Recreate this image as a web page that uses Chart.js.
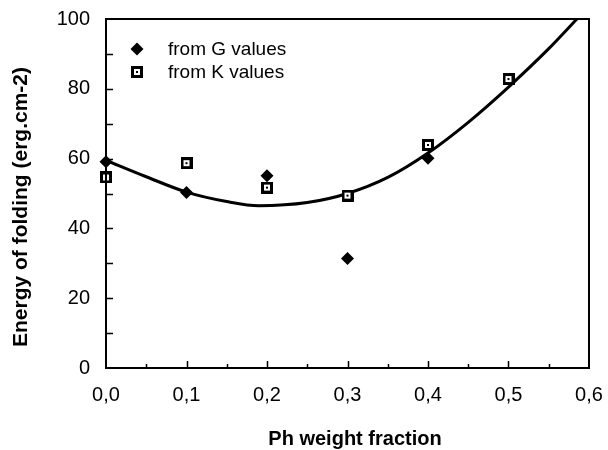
<!DOCTYPE html>
<html>
<head>
<meta charset="utf-8">
<script src="https://cdn.jsdelivr.net/npm/chart.js@4"></script>
<style>
  html, body { margin: 0; padding: 0; background: #fff; }
  #wrap { width: 608px; height: 450px; }
</style>
</head>
<body>
<div id="wrap"><canvas id="foldChart" width="608" height="450"></canvas></div>
<script>
// Energy of folding vs Ph weight fraction
const gFraction = [0.0, 0.1, 0.2, 0.3, 0.4];
const gEnergy = [59.1, 50.3, 55.1, 31.4, 60.1];

const kFraction = [0.0, 0.1, 0.2, 0.3, 0.4, 0.5];
const kEnergy = [54.6, 58.7, 51.7, 49.4, 63.9, 82.8];

// fitted curve
const fitFraction = [0.0, 0.05, 0.1, 0.15, 0.19, 0.25, 0.3, 0.35, 0.4, 0.45, 0.5, 0.55, 0.585];
const fitEnergy = [59.5, 54.8, 50.4, 47.7, 46.5, 47.4, 50.0, 54.6, 61.6, 70.4, 80.5, 91.5, 100];

const xTicks = [0, 0.1, 0.2, 0.3, 0.4, 0.5, 0.6];
const xTickLabels = ["0,0", "0,1", "0,2", "0,3", "0,4", "0,5", "0,6"];
const yTicks = [0, 20, 40, 60, 80, 100];
const yTickLabels = ["0", "20", "40", "60", "80", "100"];

const FONT = '"Liberation Sans", Arial, Helvetica, sans-serif';

function toPoints(xs, ys) {
  return xs.map((x, i) => ({ x: x, y: ys[i] }));
}

// open square with a dot in the middle
function makeSquareMarker() {
  const c = document.createElement("canvas");
  c.width = 12;
  c.height = 12;
  const g = c.getContext("2d");
  g.fillStyle = "#000";
  g.fillRect(0, 0, 12, 12);
  g.fillStyle = "#fff";
  g.fillRect(3, 3, 6, 6);
  g.fillStyle = "#000";
  g.fillRect(5, 5, 2, 2);
  return c;
}
const squareMarker = makeSquareMarker();

// frame, inward ticks, axis titles and legend
const framePlugin = {
  id: "frame",
  afterDraw(chart) {
    const ctx = chart.ctx;
    const area = chart.chartArea;
    const xs = chart.scales.x;
    const ys = chart.scales.y;
    ctx.save();
    ctx.strokeStyle = "#000";
    ctx.lineWidth = 2;
    ctx.strokeRect(area.left, area.top, area.right - area.left, area.bottom - area.top);

    ctx.lineWidth = 1.5;
    ctx.beginPath();
    for (let v = 0.05; v < 0.6; v += 0.05) {
      const px = Math.round(xs.getPixelForValue(v)) + 0.5;
      const major = Math.abs(v * 10 - Math.round(v * 10)) < 1e-6;
      const len = major ? 7 : 4;
      ctx.moveTo(px, area.bottom);
      ctx.lineTo(px, area.bottom - len);
    }
    for (let v = 10; v < 100; v += 10) {
      const py = Math.round(ys.getPixelForValue(v)) + 0.5;
      ctx.moveTo(area.left, py);
      ctx.lineTo(area.left + 7, py);
    }
    ctx.stroke();

    // axis titles
    ctx.fillStyle = "#000";
    ctx.textAlign = "center";
    ctx.textBaseline = "middle";
    ctx.font = "bold 20px " + FONT;
    ctx.fillText("Ph weight fraction", 355, 439);
    ctx.save();
    ctx.translate(21, 207);
    ctx.rotate(-Math.PI / 2);
    ctx.font = "bold 21px " + FONT;
    ctx.fillText("Energy of folding (erg.cm-2)", 0, 0);
    ctx.restore();

    // legend
    const items = chart.data.datasets.filter((d) => d.showInLegend);
    ctx.font = "19px " + FONT;
    ctx.textAlign = "left";
    items.forEach((d, i) => {
      const cy = 49 + i * 23;
      Chart.helpers.drawPoint(ctx, {
        pointStyle: d.pointStyle,
        radius: d.pointRadius,
        rotation: 0,
        borderWidth: 0,
      }, 137, cy);
      ctx.fillStyle = "#000";
      ctx.fillText(d.label, 168, cy + 1);
    });
    ctx.restore();
  },
};

const ctx = document.getElementById("foldChart");
new Chart(ctx, {
  type: "scatter",
  data: {
    datasets: [
      {
        label: "from G values",
        data: toPoints(gFraction, gEnergy),
        pointStyle: "rectRot",
        pointRadius: 6.5,
        pointHoverRadius: 6.5,
        backgroundColor: "#000",
        borderColor: "#000",
        borderWidth: 0,
        clip: false,
        showInLegend: true,
        order: 1,
      },
      {
        label: "from K values",
        data: toPoints(kFraction, kEnergy),
        pointStyle: squareMarker,
        pointRadius: 6,
        backgroundColor: "#000",
        borderColor: "#000",
        clip: false,
        showInLegend: true,
        order: 2,
      },
      {
        label: "fit",
        type: "line",
        data: toPoints(fitFraction, fitEnergy),
        borderColor: "#000",
        borderWidth: 3,
        pointRadius: 0,
        cubicInterpolationMode: "monotone",
        fill: false,
        order: 3,
      },
    ],
  },
  options: {
    responsive: false,
    animation: false,
    layout: { padding: { top: 19, right: 19, left: 0, bottom: 0 } },
    plugins: {
      legend: { display: false },
      tooltip: { enabled: false },
    },
    scales: {
      x: {
        type: "linear",
        min: 0,
        max: 0.6,
        grid: { display: false },
        border: { display: false },
        afterBuildTicks: (s) => { s.ticks = xTicks.map((v) => ({ value: v })); },
        afterFit: (s) => {
          s.height = 82;
          s.paddingLeft = 0;
          s.paddingRight = 0;
        },
        ticks: {
          color: "#000",
          font: { family: FONT, size: 20 },
          padding: 7,
          maxRotation: 0,
          autoSkip: false,
          callback: (v, i) => xTickLabels[i],
        },
      },
      y: {
        min: 0,
        max: 100,
        grid: { display: false },
        border: { display: false },
        afterBuildTicks: (s) => { s.ticks = yTicks.map((v) => ({ value: v })); },
        afterFit: (s) => {
          s.width = 106;
          s.paddingTop = 0;
          s.paddingBottom = 0;
        },
        ticks: {
          color: "#000",
          font: { family: FONT, size: 20 },
          padding: 8,
          autoSkip: false,
          callback: (v, i) => yTickLabels[i],
        },
      },
    },
  },
  plugins: [framePlugin],
});
</script>
</body>
</html>
